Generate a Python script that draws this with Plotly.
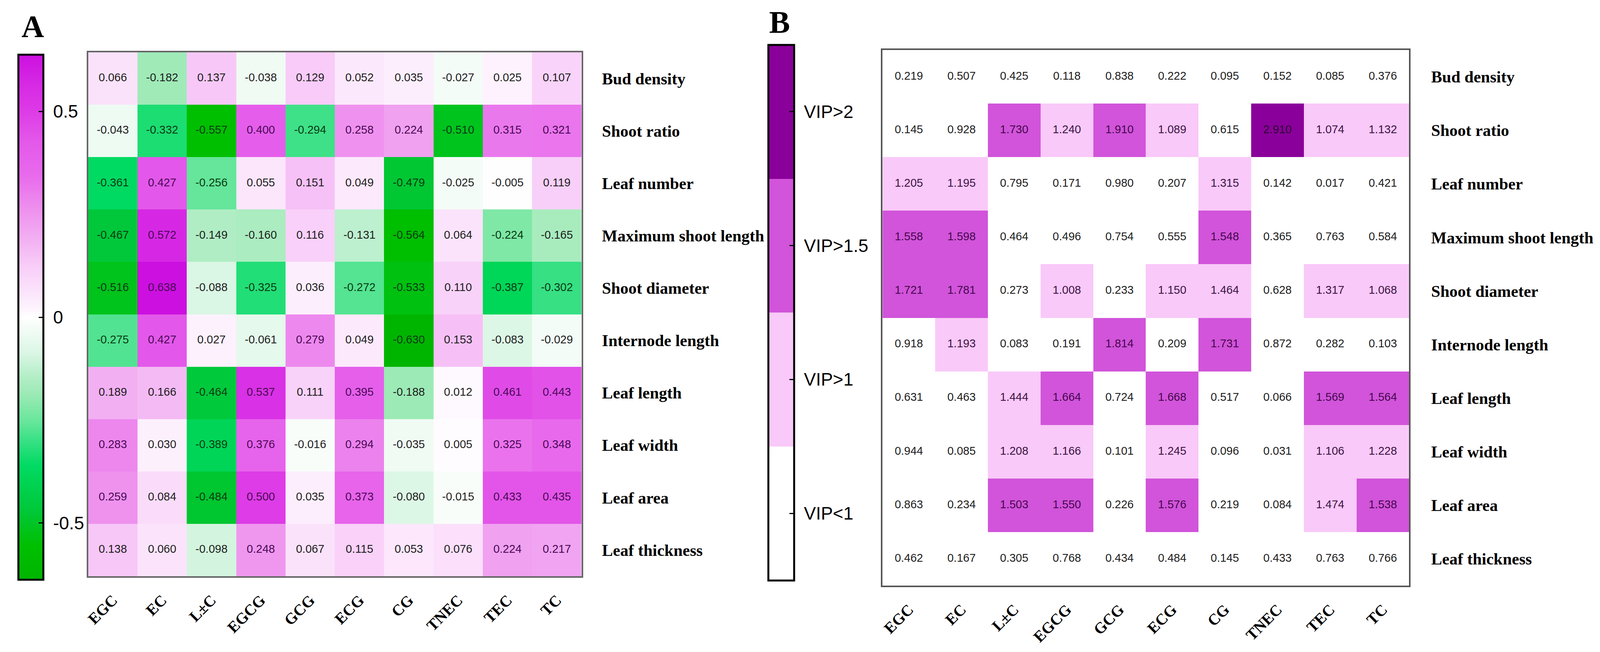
import plotly.graph_objects as go

# columns / rows of both heatmaps
compounds = ['EGC', 'EC', 'L±C', 'EGCG', 'GCG', 'ECG', 'CG', 'TNEC', 'TEC', 'TC']
traits = ['Bud density', 'Shoot ratio', 'Leaf number', 'Maximum shoot length',
          'Shoot diameter', 'Internode length', 'Leaf length', 'Leaf width',
          'Leaf area', 'Leaf thickness']

# A: correlation coefficients (rows = traits, cols = compounds)
corr = [
    [0.066, -0.182, 0.137, -0.038, 0.129, 0.052, 0.035, -0.027, 0.025, 0.107],
    [-0.043, -0.332, -0.557, 0.400, -0.294, 0.258, 0.224, -0.510, 0.315, 0.321],
    [-0.361, 0.427, -0.256, 0.055, 0.151, 0.049, -0.479, -0.025, -0.005, 0.119],
    [-0.467, 0.572, -0.149, -0.160, 0.116, -0.131, -0.564, 0.064, -0.224, -0.165],
    [-0.516, 0.638, -0.088, -0.325, 0.036, -0.272, -0.533, 0.110, -0.387, -0.302],
    [-0.275, 0.427, 0.027, -0.061, 0.279, 0.049, -0.630, 0.153, -0.083, -0.029],
    [0.189, 0.166, -0.464, 0.537, 0.111, 0.395, -0.188, 0.012, 0.461, 0.443],
    [0.283, 0.030, -0.389, 0.376, -0.016, 0.294, -0.035, 0.005, 0.325, 0.348],
    [0.259, 0.084, -0.484, 0.500, 0.035, 0.373, -0.080, -0.015, 0.433, 0.435],
    [0.138, 0.060, -0.098, 0.248, 0.067, 0.115, 0.053, 0.076, 0.224, 0.217],
]

# B: VIP values
vip = [
    [0.219, 0.507, 0.425, 0.118, 0.838, 0.222, 0.095, 0.152, 0.085, 0.376],
    [0.145, 0.928, 1.730, 1.240, 1.910, 1.089, 0.615, 2.910, 1.074, 1.132],
    [1.205, 1.195, 0.795, 0.171, 0.980, 0.207, 1.315, 0.142, 0.017, 0.421],
    [1.558, 1.598, 0.464, 0.496, 0.754, 0.555, 1.548, 0.365, 0.763, 0.584],
    [1.721, 1.781, 0.273, 1.008, 0.233, 1.150, 1.464, 0.628, 1.317, 1.068],
    [0.918, 1.193, 0.083, 0.191, 1.814, 0.209, 1.731, 0.872, 0.282, 0.103],
    [0.631, 0.463, 1.444, 1.664, 0.724, 1.668, 0.517, 0.066, 1.569, 1.564],
    [0.944, 0.085, 1.208, 1.166, 0.101, 1.245, 0.096, 0.031, 1.106, 1.228],
    [0.863, 0.234, 1.503, 1.550, 0.226, 1.576, 0.219, 0.084, 1.474, 1.538],
    [0.462, 0.167, 0.305, 0.768, 0.434, 0.484, 0.145, 0.433, 0.763, 0.766],
]
vip_levels = ['VIP<1', 'VIP>1', 'VIP>1.5', 'VIP>2']
vip_cuts = [1, 1.5, 2]

# the photographed viewport is narrower than the requested window,
# so the figure is sized to fill it (positions measured on the 4284 px reference)
RW = 4284
SC = 4096 / RW
PAD = 8
FW, FH = 4080, 1653


def px(x):
    return (x * SC - PAD) / FW


def py(y):
    return 1 - (y - PAD) / FH


SERIF = 'Times New Roman, Liberation Serif, serif'
SANS = 'Arial, Liberation Sans, sans-serif'
NB = '\u00a0'

green_pink = [
    [0.0, '#00B400'], [0.063, '#00BF00'], [0.134, '#00C83A'], [0.217, '#00DA62'],
    [0.27, '#3EE188'], [0.30, '#66E69A'], [0.357, '#A0EAB8'], [0.383, '#B0EDC4'],
    [0.431, '#DAF6E4'], [0.5, '#FFFFFF'], [0.52, '#FDF2FD'], [0.552, '#FBE2FB'],
    [0.6, '#F8CCF8'], [0.648, '#F2B0F2'], [0.71, '#EE8EEE'], [0.77, '#E86AEC'],
    [0.83, '#E45AEA'], [0.9, '#DC38E6'], [0.948, '#D628E4'], [1.0, '#CC10E0'],
]
vip_colors = ['#FFFFFF', '#F9C9F9', '#D154DA', '#8A009A']
vip_scale = []
for i, c in enumerate(vip_colors):
    vip_scale += [[i / 4, c], [(i + 1) / 4, c]]

levels = [[sum(v >= c for c in vip_cuts) for v in row] for row in vip]


def corr_text_color(v):
    if v >= 0.2:
        return '#4A0A55'
    if v <= -0.2:
        return '#0A3A14'
    return '#1E1E1E'


level_text = ['#1E1E1E', '#3C1444', '#46084E', '#2E0034']

fx, fy, tA, cA, tB, cB = [], [], [], [], [], []
for i, t in enumerate(traits):
    for j, c in enumerate(compounds):
        fx.append(c)
        fy.append(t)
        tA.append(f'{corr[i][j]:.3f}')
        cA.append(corr_text_color(corr[i][j]))
        tB.append(f'{vip[i][j]:.3f}')
        cB.append(level_text[levels[i][j]])

fig = go.Figure()

fig.add_trace(go.Heatmap(
    z=corr, x=compounds, y=traits, xaxis='x', yaxis='y',
    colorscale=green_pink, zmin=-0.638, zmax=0.638, hoverinfo='skip',
    colorbar=dict(x=px(49), xanchor='left', xpad=0, thickness=64,
                  y=py(812), yanchor='middle', len=1344, lenmode='pixels', ypad=0,
                  outlinewidth=5, outlinecolor='black',
                  ticks='inside', ticklen=14, tickwidth=3, tickcolor='black',
                  tickvals=[-0.5, 0, 0.5], ticktext=[NB + '-0.5', NB + '0', NB + '0.5'],
                  tickfont=dict(family=SANS, size=46, color='black')),
))
fig.add_trace(go.Scatter(
    x=fx, y=fy, text=tA, mode='text', xaxis='x', yaxis='y', showlegend=False,
    hoverinfo='skip', textfont=dict(family=SANS, size=29, color=cA),
))

fig.add_trace(go.Heatmap(
    z=levels, x=compounds, y=traits, xaxis='x2', yaxis='y2',
    colorscale=vip_scale, zmin=-0.5, zmax=3.5, hoverinfo='skip',
    colorbar=dict(x=px(2057), xanchor='left', xpad=0, thickness=66,
                  y=py(800), yanchor='middle', len=1371, lenmode='pixels', ypad=0,
                  outlinewidth=5, outlinecolor='black',
                  ticks='inside', ticklen=14, tickwidth=3, tickcolor='black',
                  tickvals=[0, 1, 2, 3], ticktext=[NB + s for s in vip_levels],
                  tickfont=dict(family=SANS, size=46, color='black')),
))
fig.add_trace(go.Scatter(
    x=fx, y=fy, text=tB, mode='text', xaxis='x2', yaxis='y2', showlegend=False,
    hoverinfo='skip', textfont=dict(family=SANS, size=29, color=cB),
))

xax = dict(showgrid=False, zeroline=False, ticks='', tickangle=-45, automargin=False,
           ticklabelstandoff=18, mirror=True, showline=True,
           tickfont=dict(family=SERIF, size=40, color='black', weight='bold'))
yax = dict(showgrid=False, zeroline=False, ticks='', side='right', autorange='reversed',
           mirror=True, showline=True, automargin=False,
           tickfont=dict(family=SERIF, size=42, color='black', weight='bold'))

fig.update_layout(
    width=FW, height=FH, autosize=False,
    margin=dict(l=0, r=0, t=0, b=0, autoexpand=False),
    paper_bgcolor='white', plot_bgcolor='white',
    showlegend=False,
    xaxis=dict(xax, domain=[px(236), px(1557)], anchor='y',
               linecolor='#666666', linewidth=4),
    yaxis=dict(yax, domain=[py(1475), py(134)], anchor='x',
               linecolor='#666666', linewidth=4, ticklabelstandoff=40),
    xaxis2=dict(xax, domain=[px(2363), px(3773)], anchor='y2',
                linecolor='#555555', linewidth=4),
    yaxis2=dict(yax, domain=[py(1499), py(128)], anchor='x2',
                linecolor='#555555', linewidth=4, ticklabelstandoff=44),
    annotations=[
        dict(text='A', x=px(88), y=py(68), xref='paper', yref='paper',
             showarrow=False, xanchor='center', yanchor='middle',
             font=dict(family=SERIF, size=80, color='black', weight='bold')),
        dict(text='B', x=px(2087), y=py(57), xref='paper', yref='paper',
             showarrow=False, xanchor='center', yanchor='middle',
             font=dict(family=SERIF, size=80, color='black', weight='bold')),
    ],
)

fig.write_html('out.html')
